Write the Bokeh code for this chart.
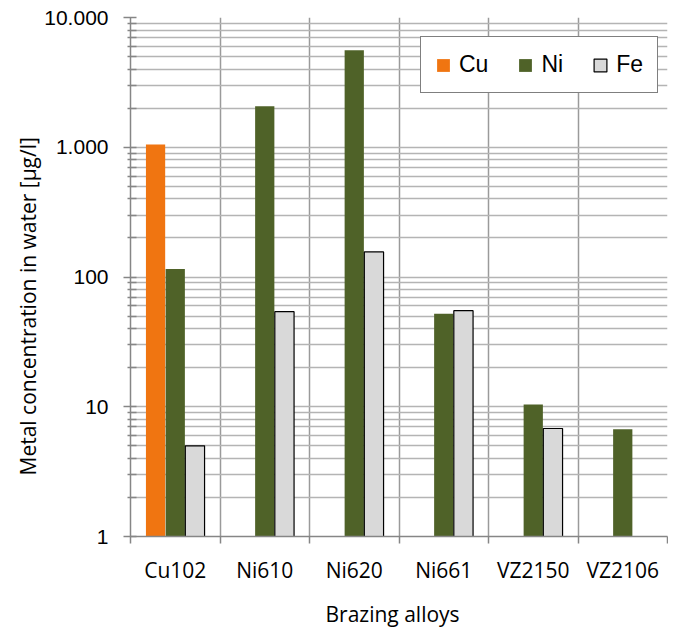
import math
from bokeh.plotting import figure
from bokeh.models import (FixedTicker, Legend, LegendItem, Title, Range1d,
                          ColumnDataSource)
from bokeh.transform import dodge
from bokeh.embed import file_html
from bokeh.resources import INLINE

nan = float("nan")
categories = ["Cu102", "Ni610", "Ni620", "Ni661", "VZ2150", "VZ2106"]
cu = [1050, nan, nan, nan, nan, nan]
ni = [115, 2070, 5600, 52, 10.4, 6.7]
fe = [5.0, 54, 156, 55, 6.8, nan]
y_ticks = [1, 10, 100, 1000, 10000]
y_tick_labels = ["1", "10", "100", "1.000", "10.000"]
series_names = ["Cu", "Ni", "Fe"]
colors = ["#f07511", "#4f6228", "#d9d9d9"]

xpos = [i + 0.5 for i in range(len(categories))]
src = ColumnDataSource(dict(x=xpos, cu=cu, ni=ni, fe=fe))

p = figure(frame_width=537, frame_height=519,
           x_range=Range1d(0, len(categories)), y_range=Range1d(1, 10000),
           y_axis_type="log", output_backend="svg", toolbar_location=None,
           min_border_left=130, min_border_right=1, min_border_top=17,
           min_border_bottom=92)
p.outline_line_color = None
p.background_fill_color = "white"

grid_col = "#b4b4b4"
axis_col = "#868686"

bw = 0.215
r_cu = p.vbar(x=dodge("x", -0.22, range=p.x_range), top="cu", bottom=1, width=bw,
              source=src, fill_color=colors[0], line_color=None)
r_ni = p.vbar(x=dodge("x", 0.0, range=p.x_range), top="ni", bottom=1, width=bw,
              source=src, fill_color=colors[1], line_color=None)
r_fe = p.vbar(x=dodge("x", 0.22, range=p.x_range), top="fe", bottom=1, width=bw,
              source=src, fill_color=colors[2], line_color="black", line_width=1.2)

# y axis
minor_y = [m * 10 ** e for e in range(4) for m in range(2, 10)]
p.yaxis.ticker = FixedTicker(ticks=y_ticks, minor_ticks=minor_y)
p.yaxis.major_label_overrides = {t: l for t, l in zip(y_ticks, y_tick_labels)}
p.yaxis.major_label_text_font = "Liberation Sans"
p.yaxis.major_label_text_font_size = "21px"
p.yaxis.major_label_text_color = "black"
p.yaxis.major_label_standoff = 15
p.yaxis.major_tick_out = 7
p.yaxis.major_tick_in = 6
p.yaxis.minor_tick_out = 3
p.yaxis.minor_tick_in = 6
p.yaxis.axis_line_color = axis_col
p.yaxis.axis_line_width = 1.5
p.yaxis.major_tick_line_color = axis_col
p.yaxis.major_tick_line_width = 1.5
p.yaxis.minor_tick_line_color = axis_col
p.yaxis.minor_tick_line_width = 1.5

p.ygrid.grid_line_color = grid_col
p.ygrid.grid_line_width = 1.5
p.ygrid.minor_grid_line_color = grid_col
p.ygrid.minor_grid_line_width = 1.5

# x axis
p.xaxis.ticker = FixedTicker(ticks=xpos, minor_ticks=list(range(len(categories) + 1)))
p.xaxis.major_label_overrides = {x: c for x, c in zip(xpos, categories)}
p.xaxis.major_label_text_font = "Open Sans"
p.xaxis.major_label_text_font_size = "21px"
p.xaxis.major_label_text_color = "black"
p.xaxis.major_tick_line_color = None
p.xaxis.major_tick_out = 0
p.xaxis.major_tick_in = 0
p.xaxis.major_label_standoff = 12
p.xaxis.minor_tick_out = 7
p.xaxis.minor_tick_in = 0
p.xaxis.minor_tick_line_color = axis_col
p.xaxis.minor_tick_line_width = 1.5
p.xaxis.axis_line_color = axis_col
p.xaxis.axis_line_width = 1.5

p.xgrid.ticker = FixedTicker(ticks=list(range(1, len(categories) + 1)))
p.xgrid.grid_line_color = "#9a9a9a"
p.xgrid.grid_line_width = 1.5

# axis titles
p.add_layout(Title(text="Metal concentration in water [µg/l]", align="left",
                   offset=61, standoff=0, text_font="Open Sans",
                   text_font_size="21px", text_font_style="normal",
                   text_color="black"), "left")
p.add_layout(Title(text="Brazing alloys", align="left",
                   offset=195, standoff=22, text_font="Open Sans",
                   text_font_size="21px", text_font_style="normal",
                   text_color="black"), "below")

legend = Legend(items=[LegendItem(label=n, renderers=[r]) for n, r in
                       zip(series_names, [r_cu, r_ni, r_fe])],
                orientation="horizontal", location=(290, 443))
legend.border_line_color = "black"
legend.border_line_width = 1.5
legend.background_fill_color = "white"
legend.background_fill_alpha = 1
legend.label_text_font = "Liberation Sans"
legend.label_text_font_size = "23px"
legend.label_text_color = "black"
legend.glyph_width = 16
legend.glyph_height = 16
legend.padding = 14
legend.spacing = 29
legend.label_standoff = 8
legend.margin = 0
p.add_layout(legend)

open("out.html", "w").write(file_html(p, INLINE))
